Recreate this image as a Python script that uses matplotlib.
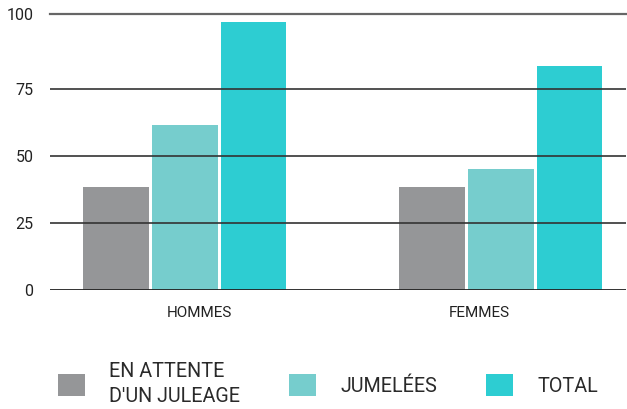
import matplotlib
matplotlib.use("Agg")
import matplotlib.pyplot as plt
import numpy as np

categories = ["HOMMES", "FEMMES"]
series_names = ["EN ATTENTE\nD'UN JULEAGE", "JUMELÉES", "TOTAL"]
en_attente = [38.5, 38.5]
jumelees = [61.5, 45.0]
total = [100.0, 83.5]
ytick_vals = [0, 25, 50, 75]
ytick_labels = ["0", "25", "50", "75", "100"]

colors = ["#959698", "#76CDCD", "#2DCDD2"]
plt.rcParams['font.family'] = ['Roboto', 'DejaVu Sans']

fig = plt.figure(figsize=(6.27, 4.09), dpi=100)
ax = fig.add_axes([50/627, 1-290.3/409, 576/627, (290.3-14)/409])
ymax = 102.8
x = np.arange(len(categories))
step = 0.218
width = 0.207
for i, (vals, c, name) in enumerate(zip([en_attente, jumelees, total], colors, series_names)):
    ax.bar(x + (i-1)*step, vals, width=width, color=c, label=name, zorder=2)

ax.set_xlim(-0.427, 1.396)
ax.set_ylim(0, ymax)
for v in ytick_vals[1:]:
    ax.axhline(v, color="#333333", lw=1.2, zorder=3)
ax.axhline(ymax, color="#666666", lw=1.6, zorder=3, clip_on=False)
ax.axhline(0, color="#222222", lw=1.3, zorder=3)
ax.set_yticks(ytick_vals + [ymax])
ax.set_yticklabels(ytick_labels)
label_shift = [0.046, -0.068]
ax.set_xticks(x + np.array(label_shift))
ax.set_xticklabels(categories)
ax.tick_params(axis='y', length=0, pad=12, labelsize=11.5, labelcolor="#222222")
ax.tick_params(axis='x', length=0, pad=11, labelsize=11, labelcolor="#222222")
for s in ax.spines.values():
    s.set_visible(False)

leg = fig.legend(loc="center left", bbox_to_anchor=(58/627, 1-384/409), ncol=3, frameon=False,
           prop={'size': 14.2}, handlelength=1.38, handleheight=1.38,
           handletextpad=1.2, columnspacing=2.5, labelcolor="#2a2a2a",
           borderaxespad=0, borderpad=0)
for t in leg.get_texts():
    t.set_linespacing(1.4)
fig.savefig("out.png", dpi=100)
